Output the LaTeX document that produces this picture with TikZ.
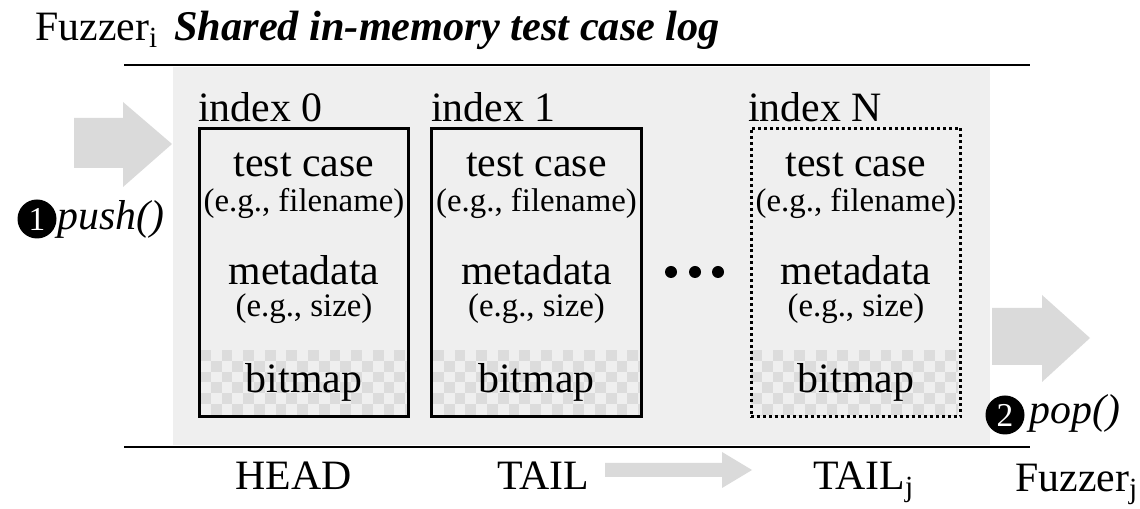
\documentclass[tikz,border=0pt]{standalone}
\usepackage{fontspec}
\setmainfont{Liberation Serif}
\usetikzlibrary{positioning}
\definecolor{logbg}{HTML}{EFEFEF}
\definecolor{arrowgray}{HTML}{DADADA}
\definecolor{checkgray}{HTML}{DCDCDC}
\tikzstyle{slot} = [rectangle, draw=black, line width=1.7pt, minimum width=4.2cm, minimum height=5.78cm, inner sep=0pt]
\tikzstyle{big} = [font=\fontsize{23.8}{28}\selectfont, inner sep=0pt]
\tikzstyle{small} = [font=\fontsize{18.7}{22}\selectfont, inner sep=0pt]
\tikzstyle{num} = [text=white, inner sep=0pt, font=\fontsize{19}{20}\selectfont]
\tikzstyle{rule} = [line width=1.7pt]

% checker pattern under the bitmap row of a slot, #1 = left edge
\newcommand{\bitmaprow}[1]{%
  \begin{scope}
    \clip (#1,350) rectangle ++(207,66);
    \foreach \i in {0,...,19}{
      \foreach \j in {0,...,6}{
        \pgfmathtruncatemacro\k{mod(\i+\j,2)}
        \ifnum\k=0 \fill[checkgray] (#1+\i*10.8,350+\j*10.8) rectangle ++(10.8,10.8);\fi
      }
    }
  \end{scope}}

\begin{document}
\begin{tikzpicture}[x=0.02cm,y=-0.02cm]
  \useasboundingbox (0,0) rectangle (1140,509);

  \fill[logbg] (173,67) rectangle (990,445);
  \draw[rule] (124,65) -- (1030,65);
  \draw[rule] (124,447) -- (1030,447);

  \node (fuzzi) [big, anchor=base west] at (35,41) {Fuzzer\textsubscript{i}};
  \node (title) [big, anchor=base west, font=\fontsize{24.1}{28}\selectfont\bfseries\itshape] at (174,41) {Shared in-memory test case log};

  \bitmaprow{200}
  \bitmaprow{433}
  \bitmaprow{751}

  \node (slot0) [slot] at (304,272.5) {};
  \node (slot1) [slot] at (536.5,272.5) {};
  \node (slotN) [slot, dash pattern=on 1.7pt off 1.7pt] at (856,272.5) {};

  \node (idx0) [big, anchor=base west] at (198,122) {index 0};
  \node (idx1) [big, anchor=base west] at (431,122) {index 1};
  \node (idxN) [big, anchor=base west] at (748,122) {index N};

  \node (tc0) [big, anchor=base] at (304,177) {test case};
  \node (fn0) [small, anchor=base] at (304,212) {(e.g., filename)};
  \node (md0) [big, anchor=base] at (304,285) {metadata};
  \node (sz0) [small, anchor=base] at (304,317) {(e.g., size)};
  \node (bm0) [big, anchor=base] at (304,393) {bitmap};

  \node (tc1) [big, anchor=base] at (536.5,177) {test case};
  \node (fn1) [small, anchor=base] at (536.5,212) {(e.g., filename)};
  \node (md1) [big, anchor=base] at (536.5,285) {metadata};
  \node (sz1) [small, anchor=base] at (536.5,317) {(e.g., size)};
  \node (bm1) [big, anchor=base] at (536.5,393) {bitmap};

  \node (tcN) [big, anchor=base] at (856,177) {test case};
  \node (fnN) [small, anchor=base] at (856,212) {(e.g., filename)};
  \node (mdN) [big, anchor=base] at (856,285) {metadata};
  \node (szN) [small, anchor=base] at (856,317) {(e.g., size)};
  \node (bmN) [big, anchor=base] at (856,393) {bitmap};

  \foreach \x in {671,695,718}
    \fill (\x,272) circle (6);

  % push and pop arrows
  \fill[arrowgray] (74,118) -- (123,118) -- (123,102) -- (172,144) -- (123,187) -- (123,168) -- (74,168) -- cycle;
  \fill[arrowgray] (992,308) -- (1042,308) -- (1042,295) -- (1090,338) -- (1042,382) -- (1042,365) -- (992,365) -- cycle;

  \fill (37,219) circle (19.5);
  \node (one) [num] at (37,219) {1};
  \node (push) [big, anchor=base west, font=\fontsize{23.8}{28}\selectfont\itshape] at (57,230) {push()};
  \fill (1005,415) circle (19.5);
  \node (two) [num] at (1005,415) {2};
  \node (pop) [big, anchor=base west, font=\fontsize{23.8}{28}\selectfont\itshape] at (1029,424) {pop()};

  \node (head) [big, anchor=base west] at (235,490) {HEAD};
  \node (tail) [big, anchor=base west] at (497,490) {TAIL};
  \node (tailj) [big, anchor=base west] at (813,490) {TAIL\textsubscript{j}};
  \node (fuzzj) [big, anchor=base west] at (1015,492) {Fuzzer\textsubscript{j}};

  \fill[arrowgray] (605,463) -- (722,463) -- (722,452) -- (752,470) -- (722,488) -- (722,477) -- (605,477) -- cycle;
\end{tikzpicture}
\end{document}
